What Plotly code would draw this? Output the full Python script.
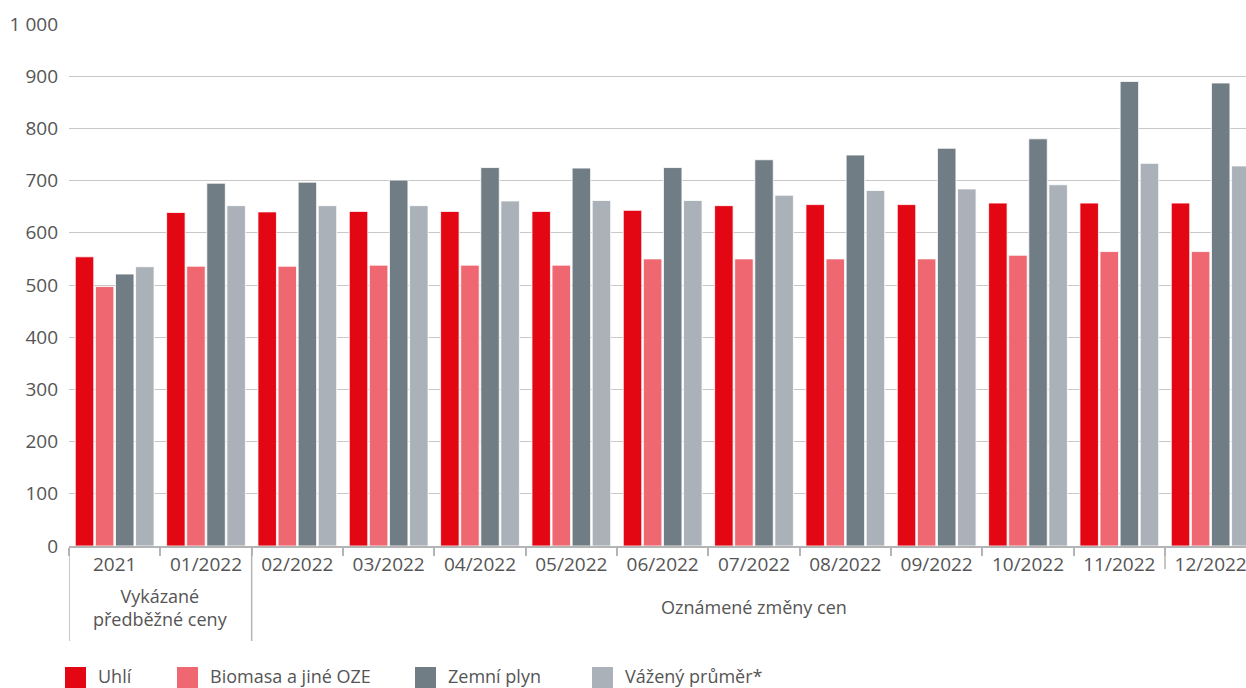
import plotly.graph_objects as go

# ---- data ----
categories = ["2021", "01/2022", "02/2022", "03/2022", "04/2022", "05/2022", "06/2022",
              "07/2022", "08/2022", "09/2022", "10/2022", "11/2022", "12/2022"]
series_names = ["Uhlí", "Biomasa a jiné OZE", "Zemní plyn", "Vážený průměr*"]
uhli = [554, 639, 640, 641, 641, 641, 643, 652, 654, 654, 657, 657, 657]
biomasa = [497, 536, 536, 538, 538, 538, 550, 550, 550, 550, 557, 564, 564]
zemni_plyn = [521, 695, 697, 701, 725, 724, 725, 740, 749, 762, 780, 890, 887]
vazeny_prumer = [535, 652, 652, 652, 661, 662, 662, 672, 681, 684, 692, 733, 728]
group_labels = ["Vykázané<br>předběžné ceny", "Oznámené změny cen"]
y_ticks = [0, 100, 200, 300, 400, 500, 600, 700, 800, 900, 1000]

colors = ["#E30613", "#EF6770", "#717D85", "#AAB1B8"]
values = [uhli, biomasa, zemni_plyn, vazeny_prumer]
text_color = "#555555"
FONT = "Open Sans"

W, H = 1246, 688
ML, MT, MB, MR = 69, 24, 142, 0
PW = W - ML - MR
PH = H - MT - MB

fig = go.Figure()
for name, col, vals in zip(series_names, colors, values):
    fig.add_trace(go.Bar(
        x=categories, y=vals, name=name,
        marker=dict(color=col, line=dict(color="rgba(255,255,255,0.8)", width=1)),
        showlegend=False,
    ))

def py(pix):
    """pixel y (page) -> paper y"""
    return (H - MB - pix) / PH

def px(pix):
    return (pix - ML) / PW

shapes = []
# long dividers below axis
for xv, bottom in [(-0.5, 641), (1.5, 641), (11.5, 569)]:
    shapes.append(dict(type="line", xref="x", yref="paper", x0=xv, x1=xv,
                       y0=0, y1=py(bottom), line=dict(color="#B4B4B4", width=1.5)))

annotations = [
    dict(text=group_labels[0], xref="x", yref="paper", x=0.5, y=py(607),
         showarrow=False, xanchor="center", yanchor="middle",
         font=dict(family=FONT, size=18, color=text_color)),
    dict(text=group_labels[1], xref="x", yref="paper", x=7.0, y=py(607),
         showarrow=False, xanchor="center", yanchor="middle",
         font=dict(family=FONT, size=18, color=text_color)),
]

# manual legend
sq_left = [65, 177, 415, 592]
for name, col, x0 in zip(series_names, colors, sq_left):
    shapes.append(dict(type="rect", xref="paper", yref="paper",
                       x0=px(x0), x1=px(x0 + 21), y0=py(667), y1=py(690),
                       fillcolor=col, line=dict(width=0)))
    annotations.append(dict(text=name, xref="paper", yref="paper",
                            x=px(x0 + 31), y=py(675.5), xanchor="left", yanchor="middle",
                            showarrow=False,
                            font=dict(family=FONT, size=18, color=text_color)))

fig.update_layout(
    width=W, height=H,
    margin=dict(l=ML, r=MR, t=MT, b=MB),
    paper_bgcolor="white", plot_bgcolor="white",
    barmode="group", bargap=0.12, bargroupgap=0.08,
    font=dict(family=FONT, size=18, color=text_color),
    separators=", ",
    shapes=shapes, annotations=annotations,
    showlegend=False,
)
fig.update_xaxes(
    type="category", range=[-0.5, 12.387],
    showline=True, linecolor="#B4B4B4", linewidth=2,
    ticks="outside", tickson="boundaries", ticklen=8, tickcolor="#B4B4B4", tickwidth=1.5,
    showgrid=False,
    tickfont=dict(family=FONT, size=19, color=text_color),
)
fig.update_yaxes(
    range=[0, 1000], tickvals=y_ticks, tickformat=",d",
    showgrid=True, gridcolor="#C8C8C8", gridwidth=1.3,
    zeroline=False, showline=False,
    ticks="", ticklabelstandoff=10,
    tickfont=dict(family=FONT, size=19, color=text_color),
)

fig.write_html("out.html")
